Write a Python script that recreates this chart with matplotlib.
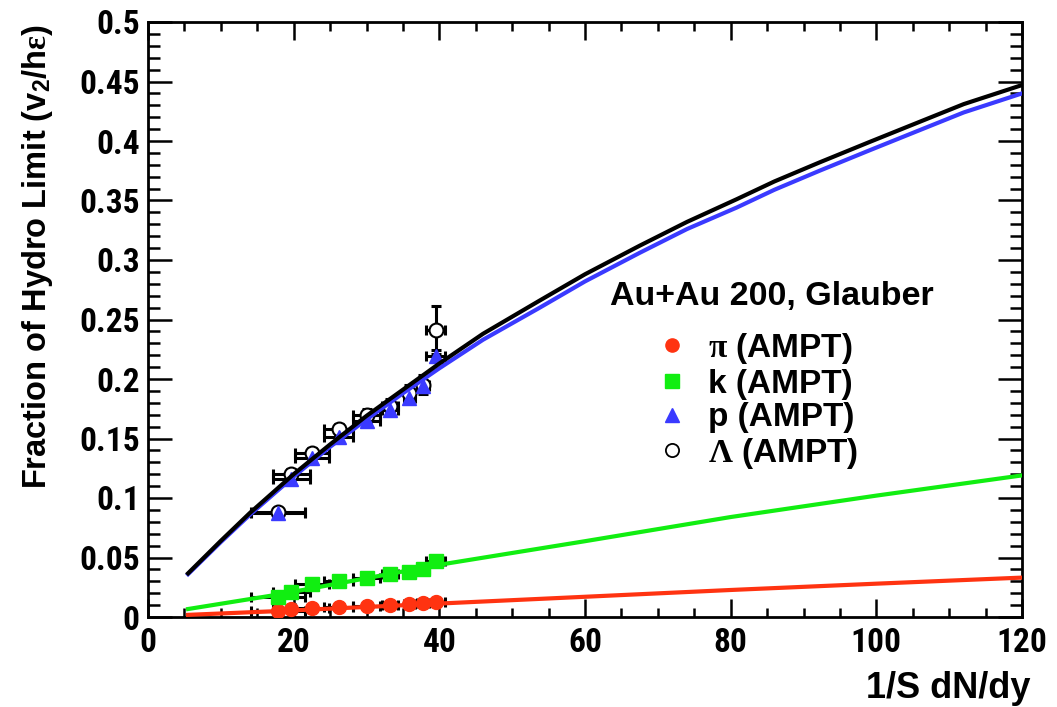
import matplotlib
matplotlib.use("Agg")
import matplotlib.pyplot as plt
from matplotlib.lines import Line2D
from matplotlib.ticker import MultipleLocator
import numpy as np

plt.rcParams['font.family'] = ['Liberation Sans', 'DejaVu Sans']
plt.rcParams['font.weight'] = 'bold'
plt.rcParams['mathtext.fontset'] = 'custom'
plt.rcParams['mathtext.rm'] = 'Liberation Serif'
plt.rcParams['mathtext.it'] = 'Liberation Serif'
plt.rcParams['mathtext.bf'] = 'Liberation Sans:bold'
tick_font = ['Roboto Condensed', 'Liberation Sans', 'DejaVu Sans']

## AMPT points, 1/S dN/dy
dndy = [17.9, 19.7, 22.5, 26.2, 30.0, 33.2, 35.9, 37.8, 39.5]
dndy_err = [3.7, 2.6, 2.3, 2.0, 1.9, 1.1, 0.8, 0.8, 1.3]

pion = [0.005, 0.0065, 0.0076, 0.0084, 0.009, 0.0098, 0.011, 0.0116, 0.0126]
kaon = [0.017, 0.021, 0.0275, 0.0305, 0.033, 0.036, 0.038, 0.040, 0.047]
proton = [0.087, 0.116, 0.134, 0.151, 0.165, 0.174, 0.184, 0.194, 0.219]
lam = [0.0885, 0.120, 0.138, 0.158, 0.170, 0.177, 0.188, 0.195, 0.241]
pion_err = [0.001] * 9
kaon_err = [0.001] * 9
proton_err = [0.002, 0.002, 0.002, 0.003, 0.003, 0.003, 0.004, 0.004, 0.005]
lam_err = [0.003, 0.004, 0.004, 0.004, 0.005, 0.006, 0.007, 0.008, 0.020]

## curves
fit_x = [5.5, 10, 14, 20, 25, 30, 35, 40, 46, 53.8, 60, 67.5, 74, 80.8, 86, 92.2, 99, 105.9, 112, 120]
fit_lam = [0.0367, 0.064, 0.0875, 0.120, 0.145, 0.169, 0.191, 0.213, 0.238, 0.266, 0.288, 0.312,
           0.332, 0.351, 0.366, 0.382, 0.399, 0.416, 0.431, 0.447]
fit_p = [0.036, 0.063, 0.086, 0.118, 0.143, 0.166, 0.188, 0.209, 0.233, 0.260, 0.282, 0.306,
         0.326, 0.344, 0.359, 0.375, 0.392, 0.409, 0.424, 0.440]
lin_x = [5.5, 18, 40, 60, 80, 100, 120]
fit_k = [0.0067, 0.019, 0.0439, 0.0637, 0.084, 0.102, 0.119]
fit_pi = [0.0018, 0.005, 0.0113, 0.017, 0.0227, 0.028, 0.0331]

red = '#ff3311'
green = '#11ee11'
blue = '#3a3aff'

fig = plt.figure(figsize=(10.57, 7.07), dpi=100)
ax = fig.add_axes([148/1057, 90/707, 874/1057, 595/707])

ebkw = dict(fmt='none', ecolor='black', elinewidth=2.2, capsize=3.5, capthick=2.2, zorder=2)
for vals, errs in [(pion, pion_err), (kaon, kaon_err), (proton, proton_err), (lam, lam_err)]:
    ax.errorbar(dndy, vals, xerr=dndy_err, yerr=errs, **ebkw)

ax.plot(dndy, pion, 'o', color=red, ms=10, mec=red, zorder=3)
ax.plot(dndy, kaon, 's', color=green, ms=10, mec=green, zorder=3)
ax.plot(dndy, lam, 'o', mfc='white', mec='black', mew=1.5, ms=10, zorder=3)
ax.plot(dndy, proton, '^', color=blue, ms=9.5, mec=blue, zorder=3)

ax.plot(fit_x, fit_p, color=blue, lw=3, zorder=4)
ax.plot(fit_x, fit_lam, color='black', lw=3, zorder=4)
ax.plot(lin_x, fit_k, color=green, lw=3, zorder=4)
ax.plot(lin_x, fit_pi, color=red, lw=3, zorder=4)

ax.set_xlim(0, 120)
ax.set_ylim(0, 0.5)
ax.xaxis.set_major_locator(MultipleLocator(20))
ax.xaxis.set_minor_locator(MultipleLocator(5))
ax.yaxis.set_minor_locator(MultipleLocator(0.01))
ax.set_yticks(np.arange(0, 0.51, 0.05))
ax.set_yticklabels(['0', '0.05', '0.1', '0.15', '0.2', '0.25', '0.3', '0.35', '0.4', '0.45', '0.5'])
ax.tick_params(which='both', direction='in', top=True, right=True, width=1.8, labelsize=24)
ax.tick_params(axis='x', which='major', length=13, pad=7)
ax.tick_params(axis='x', which='minor', length=6.5)
ax.tick_params(axis='y', which='major', length=17, pad=6)
ax.tick_params(axis='y', which='minor', length=8.5)
for lab in ax.get_xticklabels() + ax.get_yticklabels():
    lab.set_family(tick_font)
    lab.set_fontweight('bold')
for s in ax.spines.values():
    s.set_linewidth(2)

fig.text(1030/1057, 1 - 688/707, '1/S dN/dy', ha='right', va='center', fontsize=26, fontweight='bold')
fig.text(38/1057, 1 - 24/707, r'Fraction of Hydro Limit (v$_\mathbf{2}$/h$\varepsilon$)',
         rotation=90, ha='center', va='top', fontsize=23.5, fontweight='bold')

fig.text(610/1057, 1 - 296/707, 'Au+Au 200, Glauber', ha='left', va='center', fontsize=24.5, fontweight='bold')
handles = [Line2D([], [], marker='o', ls='none', color=red, ms=9.5),
           Line2D([], [], marker='s', ls='none', color=green, ms=9.5),
           Line2D([], [], marker='^', ls='none', color=blue, ms=9.5),
           Line2D([], [], marker='o', ls='none', mfc='white', mec='black', mew=1.3, ms=9.5)]
labels = [r'$\pi$ (AMPT)', 'k (AMPT)', 'p (AMPT)', r'$\Lambda$ (AMPT)']
ax.legend(handles, labels, loc='upper left', bbox_to_anchor=((655 - 148)/874, 1 - (331 - 22)/595),
          frameon=False, fontsize=24, handlelength=1.0, handletextpad=0.6,
          labelspacing=0.08, borderpad=0, borderaxespad=0)

fig.savefig('out.png', dpi=100)
